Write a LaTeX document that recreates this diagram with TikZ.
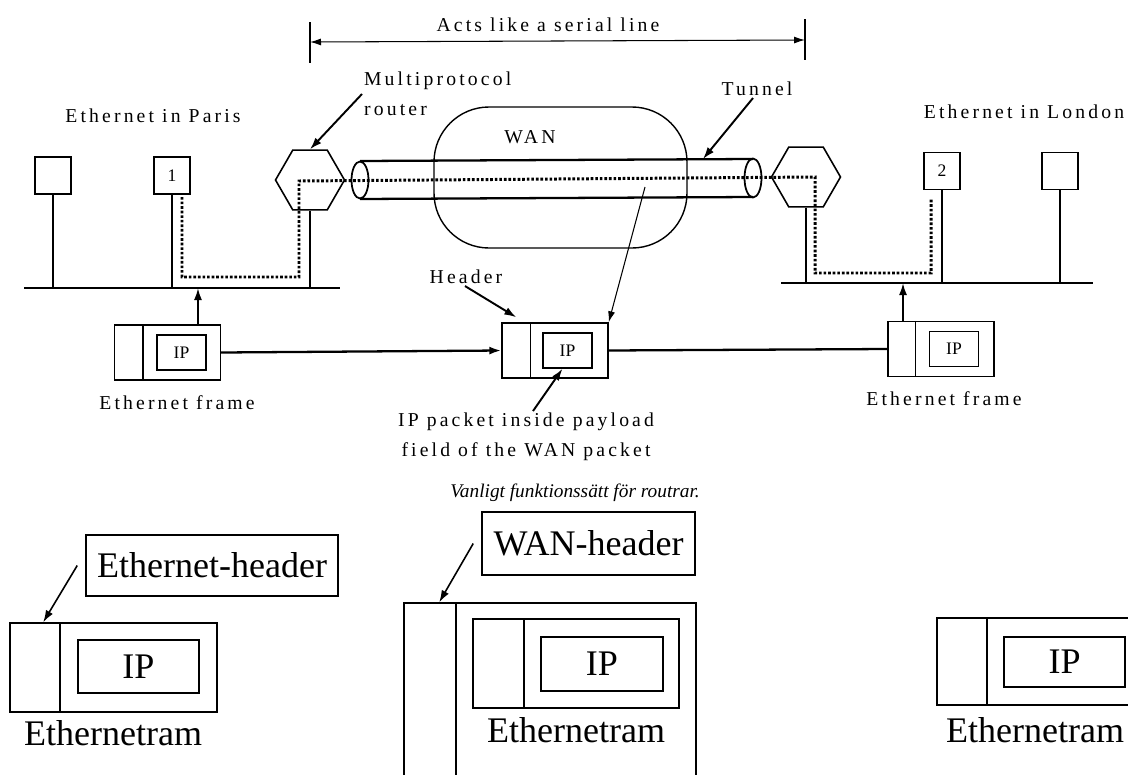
\documentclass[tikz,border=0pt]{standalone}
\usepackage{fontspec}
\setmainfont{Liberation Serif}
\newfontfamily\scanfont[LetterSpace=16]{Liberation Serif}
\usetikzlibrary{shapes.geometric, arrows.meta, positioning, calc}

\begin{document}
\begin{tikzpicture}[
      x=0.02cm, y=-0.02cm,
      lbl/.style={font=\scanfont\fontsize{11.2}{17}\selectfont, inner sep=1pt},
      host/.style={draw, line width=0.8pt, minimum width=0.72cm,
                   minimum height=0.74cm, inner sep=0pt,
                   font=\fontsize{10}{11}\selectfont},
      router/.style={draw, line width=0.9pt, regular polygon,
                     regular polygon sides=6, minimum size=1.38cm, inner sep=0pt},
      bus/.style={line width=1.6pt},
      stem/.style={line width=1.1pt},
      route/.style={line width=1.7pt, dash pattern=on 1.5pt off 1.1pt},
      frame/.style={draw, line width=0.8pt, minimum width=2.12cm,
                    minimum height=1.1cm, inner sep=0pt},
      ipbox/.style={draw, line width=0.8pt, minimum width=0.98cm,
                    minimum height=0.7cm, inner sep=0pt,
                    font=\fontsize{10}{11}\selectfont},
      arrow/.style={-{Latex[length=2.4mm, width=1.6mm]}, line width=1.1pt},
      thinarrow/.style={-{Latex[length=2.2mm, width=1.4mm]}, line width=0.6pt},
      dimline/.style={{Latex[length=2.2mm, width=1.4mm]}-{Latex[length=2.2mm, width=1.4mm]},
                      line width=0.6pt},
      bigbox/.style={draw, line width=0.9pt, inner sep=0pt,
                     font=\fontsize{20.5}{24}\selectfont},
      bigtext/.style={font=\fontsize{20.5}{24}\selectfont, inner sep=0pt}
    ]
    \useasboundingbox (0,0) rectangle (1128,774);
    \clip (0,0) rectangle (1128,774);

    % serial line span
    \node[lbl] (acts) at (548,25) {Acts like a serial line};
    \coordinate (serL) at (310,42);
    \coordinate (serR) at (805,40);
    \draw[line width=0.6pt] ([yshift=0.4cm]serL) -- ([yshift=-0.42cm]serL);
    \draw[line width=0.6pt] ([yshift=0.42cm]serR) -- ([yshift=-0.4cm]serR);
    \draw[dimline] (serL) -- (serR);

    % Paris
    \node[lbl] (paris) at (153,116) {Ethernet in Paris};
    \node[host] (hostA) at (53,175.5) {};
    \node[host] (host1) at (172,175.5) {1};
    \node[router] (hexL) at (310,180) {};
    \coordinate (busLw) at (24,288);
    \coordinate (busLe) at (340,288);
    \draw[bus] (busLw) -- (busLe);
    \foreach \n in {hostA, host1, hexL}
      \draw[stem] (\n.south) -- (\n.south |- busLw);

    % London
    \node[lbl] (london) at (1024,112) {Ethernet in London};
    \node[router] (hexR) at (806,177) {};
    \node[host] (host2) at (942,171) {2};
    \node[host] (hostB) at (1060,171) {};
    \coordinate (busRw) at (781,283);
    \coordinate (busRe) at (1093,283);
    \draw[bus] (busRw) -- (busRe);
    \foreach \n in {hexR, host2, hostB}
      \draw[stem] (\n.south) -- (\n.south |- busRw);

    % WAN cloud and tunnel
    \draw[line width=0.8pt, rounded corners=1.1cm] (434,107) rectangle (687,248);
    \node[lbl] (wan) at (530,137) {WAN};
    \draw[line width=1.3pt] (360,161) -- (753,159) (360,199) -- (753,197);
    \draw[line width=1pt] (360,180) ellipse [x radius=0.17cm, y radius=0.37cm];
    \draw[line width=1pt] (753,178) ellipse [x radius=0.17cm, y radius=0.39cm];
    \draw[route] (182,197) -- (182,277) -- (299,277) -- (299,181)
      -- (815,177) -- (815,273) -- (931,273) -- (931,198);

    \node[lbl, anchor=west, align=left] (mpr) at (362,94) {Multiprotocol\\router};
    \draw[arrow] (mpr.west) -- (hexL.north);
    \node[lbl] (tun) at (757,89) {Tunnel};
    \coordinate (tunTop) at (703,159);
    \draw[arrow] ([xshift=-0.08cm]tun.south) -- (tunTop);

    % frames on the way
    \node[frame] (pktA) at (167.5,352.5) {};
    \draw[line width=0.8pt] ([xshift=0.58cm]pktA.north west) -- ([xshift=0.58cm]pktA.south west);
    \node[ipbox] (ipA) at ([xshift=0.28cm]pktA.center) {IP};

    \node[frame] (pktB) at (555,350.5) {};
    \draw[line width=0.8pt] ([xshift=0.58cm]pktB.north west) -- ([xshift=0.58cm]pktB.south west);
    \node[ipbox] (ipB) at ([xshift=0.25cm]pktB.center) {IP};

    \node[frame] (pktC) at (941,349) {};
    \draw[line width=0.8pt] ([xshift=0.56cm]pktC.north west) -- ([xshift=0.56cm]pktC.south west);
    \node[ipbox] (ipC) at ([xshift=0.26cm]pktC.center) {IP};

    \draw[arrow] ([xshift=0.61cm]pktA.north) -- ([xshift=0.61cm]pktA.north |- busLw);
    \draw[arrow, line width=1.3pt] (pktA.east) -- (pktB.west);
    \draw[line width=1.3pt] (pktB.east) -- (pktC.west);
    \draw[arrow] ([xshift=-0.76cm]pktC.north) -- ([xshift=-0.76cm]pktC.north |- busRw);

    \node[lbl] (frmA) at (177,403) {Ethernet frame};
    \node[lbl] (frmC) at (944,399) {Ethernet frame};
    \node[lbl] (hdr) at (466,277) {Header};
    \draw[arrow] ([xshift=-0.02cm]hdr.south) -- ([xshift=0.3cm, yshift=0.1cm]pktB.north west);
    \node[lbl, align=center] (iplbl) at (526,437) {IP packet inside payload\\field of the WAN packet};
    \draw[arrow] ([xshift=0.14cm]iplbl.north) -- ([xshift=-0.1cm]ipB.south);
    \coordinate (inTun) at (645,187);
    \draw[thinarrow] (inTun) -- (pktB.north east);

    \node[font=\itshape\fontsize{11}{13}\selectfont] (cap) at (575,493) {Vanligt funktionssätt för routrar.};

    % Ethernetram, left
    \node[bigbox, minimum width=5.04cm, minimum height=1.22cm] (ehdr) at (212,565.5) {Ethernet-header};
    \node[bigbox, minimum width=4.14cm, minimum height=1.78cm] (ethA) at (113.5,667.5) {};
    \draw[line width=0.9pt] ([xshift=1.02cm]ethA.north west) -- ([xshift=1.02cm]ethA.south west);
    \node[bigbox, minimum width=2.42cm, minimum height=1.06cm] (ipD) at (138.5,666.5) {IP};
    \node[bigtext] (tramA) at (113,733) {Ethernetram};
    \draw[arrow, line width=0.9pt] ([xshift=-0.16cm]ehdr.west) -- ([xshift=0.68cm]ethA.north west);

    % Ethernetram inside WAN packet
    \node[bigbox, minimum width=4.26cm, minimum height=1.26cm] (whdr) at (588.5,543.5) {WAN-header};
    \node[bigbox, minimum width=5.84cm, minimum height=4cm] (wanF) at (550,703) {};
    \draw[line width=0.9pt] ([xshift=1.06cm]wanF.north west) -- ([xshift=1.06cm]wanF.south west);
    \node[bigbox, minimum width=4.12cm, minimum height=1.78cm] (ethB) at (576,663.5) {};
    \draw[line width=0.9pt] ([xshift=1.04cm]ethB.north west) -- ([xshift=1.04cm]ethB.south west);
    \node[bigbox, minimum width=2.44cm, minimum height=1.08cm] (ipE) at (602,664) {IP};
    \node[bigtext] (tramB) at (576,730) {Ethernetram};
    \draw[arrow, line width=0.9pt] ([xshift=-0.16cm]whdr.west) -- ([xshift=0.72cm]wanF.north west);

    % Ethernetram, right
    \node[bigbox, minimum width=4.14cm, minimum height=1.74cm] (ethC) at (1040.5,661.5) {};
    \draw[line width=0.9pt] ([xshift=1.02cm]ethC.north west) -- ([xshift=1.02cm]ethC.south west);
    \node[bigbox, minimum width=2.42cm, minimum height=1cm] (ipF) at (1064.5,662) {IP};
    \node[bigtext] (tramC) at (1035,730) {Ethernetram};
  \end{tikzpicture}
\end{document}
